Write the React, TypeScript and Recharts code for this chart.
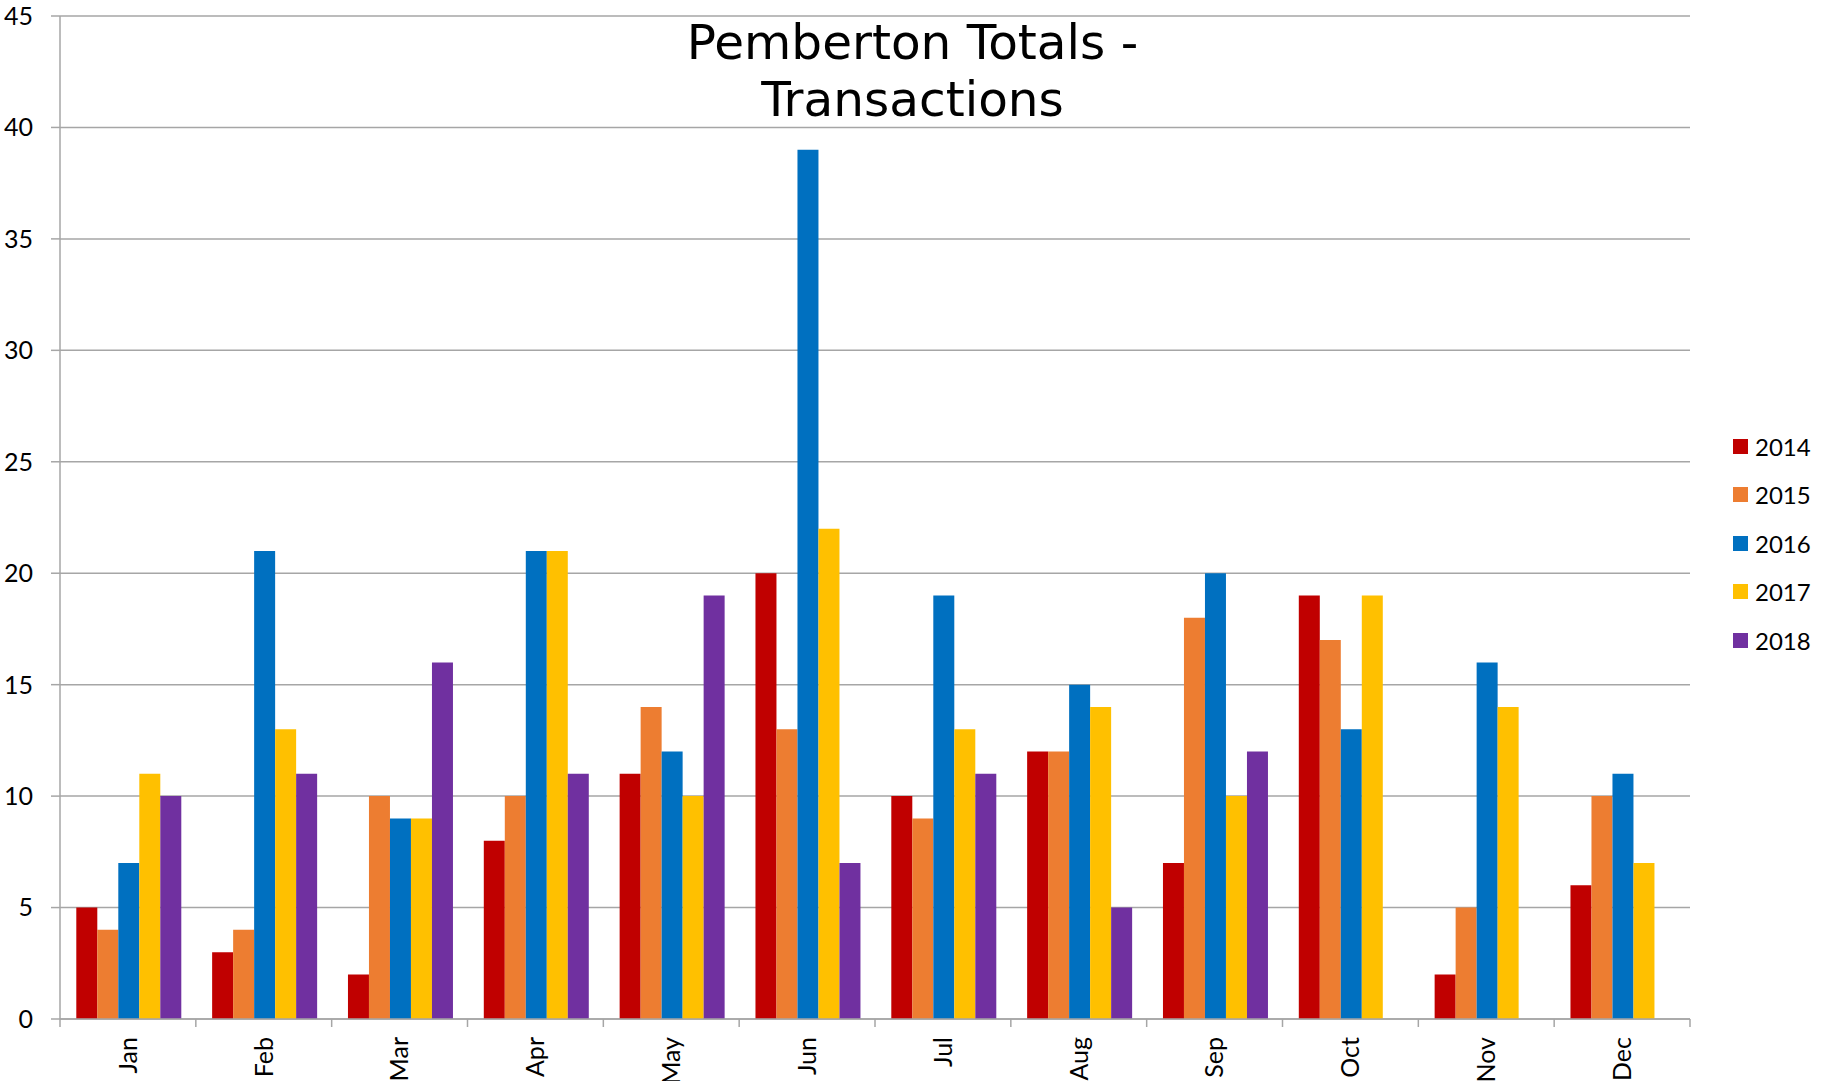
import React from "react";
import { BarChart, Bar, XAxis, YAxis, CartesianGrid, Legend } from "recharts";

const months = ["Jan", "Feb", "Mar", "Apr", "May", "Jun", "Jul", "Aug", "Sep", "Oct", "Nov", "Dec"];
const y2014 = [5, 3, 2, 8, 11, 20, 10, 12, 7, 19, 2, 6];
const y2015 = [4, 4, 10, 10, 14, 13, 9, 12, 18, 17, 5, 10];
const y2016 = [7, 21, 9, 21, 12, 39, 19, 15, 20, 13, 16, 11];
const y2017 = [11, 13, 9, 21, 10, 22, 13, 14, 10, 19, 14, 7];
const y2018 = [10, 11, 16, 11, 19, 7, 11, 5, 12, null, null, null];
const yTicks = [0, 5, 10, 15, 20, 25, 30, 35, 40, 45];

const series = [
  { key: "2014", values: y2014, color: "#C00000" },
  { key: "2015", values: y2015, color: "#ED7D31" },
  { key: "2016", values: y2016, color: "#0070C0" },
  { key: "2017", values: y2017, color: "#FFC000" },
  { key: "2018", values: y2018, color: "#7030A0" },
];

const data = months.map((m, i) => {
  const row: { [k: string]: string | number | null } = { month: m };
  series.forEach((s) => (row[s.key] = s.values[i]));
  return row;
});

const W = 1825;
const H = 1081;
const PLOT_LEFT = 60;
const PLOT_RIGHT = 1690;
const BAND = (PLOT_RIGHT - PLOT_LEFT) / months.length;
const LEGEND_W = 92;
const GRID = "#A6A6A6";
const FONT = "Lato, 'Open Sans', sans-serif";

function MonthTick(props: any) {
  const { x, y, payload, index } = props;
  const left = x - BAND / 2;
  return (
    <g>
      <line x1={left} y1={y} x2={left} y2={y + 8} stroke={GRID} strokeWidth={1.5} />
      {index === months.length - 1 && (
        <line x1={x + BAND / 2} y1={y} x2={x + BAND / 2} y2={y + 8} stroke={GRID} strokeWidth={1.5} />
      )}
      <text
        x={x}
        y={y + 18}
        transform={`rotate(-90, ${x}, ${y + 18})`}
        textAnchor="end"
        dy="0.35em"
        fontSize={25}
        fontFamily={FONT}
        fill="#000"
      >
        {payload.value}
      </text>
    </g>
  );
}

function renderLegend() {
  return (
    <div style={{ width: LEGEND_W }}>
      {series.map((s) => (
        <div key={s.key} style={{ height: 48.5, display: "flex", alignItems: "center" }}>
          <span style={{ width: 15, height: 15, background: s.color, marginRight: 7, display: "inline-block" }} />
          <span style={{ fontFamily: FONT, fontSize: 24, color: "#000" }}>{s.key}</span>
        </div>
      ))}
    </div>
  );
}

export default function App() {
  return (
    <div style={{ position: "absolute", left: 0, top: 0, width: W, height: H, background: "#fff" }}>
      <div
        style={{
          position: "absolute",
          left: 0,
          top: 14,
          width: W,
          textAlign: "center",
          fontFamily: "'DejaVu Sans', Verdana, sans-serif",
          fontSize: 48.5,
          lineHeight: "57px",
          color: "#000",
          zIndex: 2,
          pointerEvents: "none",
        }}
      >
        Pemberton Totals -<br />
        Transactions
      </div>
      <BarChart
        width={W}
        height={H}
        data={data}
        margin={{ top: 16, right: W - PLOT_RIGHT - LEGEND_W, bottom: 0, left: 0 }}
        barGap={0}
        barCategoryGap="12%"
      >
        <CartesianGrid vertical={false} stroke={GRID} strokeWidth={1.5} />
        <XAxis
          dataKey="month"
          height={62}
          interval={0}
          axisLine={{ stroke: GRID, strokeWidth: 1.5 }}
          tickLine={false}
          tickSize={0}
          tickMargin={0}
          tick={<MonthTick />}
        />
        <YAxis
          width={PLOT_LEFT}
          domain={[0, 45]}
          ticks={yTicks}
          interval={0}
          axisLine={{ stroke: GRID, strokeWidth: 1.5 }}
          tickLine={{ stroke: GRID, strokeWidth: 1.5 }}
          tickSize={9}
          tickMargin={18}
          tick={{ fill: "#000", fontSize: 25, fontFamily: FONT }}
        />
        <Legend
          layout="vertical"
          align="right"
          verticalAlign="middle"
          width={LEGEND_W}
          wrapperStyle={{ left: 1733, top: 422, right: "auto" }}
          content={renderLegend}
        />
        {series.map((s) => (
          <Bar key={s.key} dataKey={s.key} fill={s.color} isAnimationActive={false} />
        ))}
      </BarChart>
    </div>
  );
}
